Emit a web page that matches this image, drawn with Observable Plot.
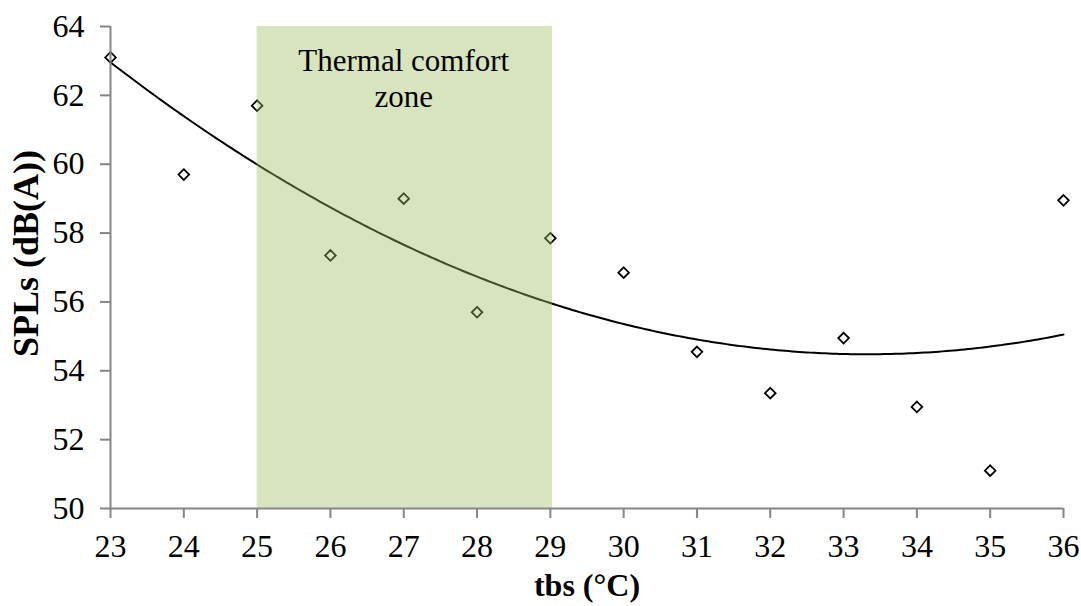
<!DOCTYPE html>
<html>
<head>
<meta charset="utf-8">
<script src="https://cdn.jsdelivr.net/npm/d3@7"></script>
<script src="https://cdn.jsdelivr.net/npm/@observablehq/plot@0.6"></script>
<style>
  html, body { margin: 0; padding: 0; background: #fff; }
  #chart svg { display: block; }
</style>
</head>
<body>
<div id="chart"></div>
<script>
// Data
const tbs = [23, 24, 25, 26, 27, 28, 29, 30, 31, 32, 33, 34, 35, 36];
const spl = [63.1, 59.7, 61.7, 57.35, 59.0, 55.7, 57.85, 56.85, 54.55, 53.35, 54.95, 52.95, 51.1, 58.95];
const xTicks = [23, 24, 25, 26, 27, 28, 29, 30, 31, 32, 33, 34, 35, 36];
const yTicks = [50, 52, 54, 56, 58, 60, 62, 64];
const zone = [{x1: 25, x2: 29.03, y1: 50, y2: 64}];
const zoneLabel = "Thermal comfort\nzone";
const xTitle = "tbs (°C)";
const yTitle = "SPLs (dB(A))";

const points = tbs.map((x, i) => ({x, y: spl[i]}));

// Order-2 polynomial least-squares trendline fitted to the points
function quadFit(xs, ys) {
  const n = xs.length;
  let s = [0, 0, 0, 0, 0], t = [0, 0, 0];
  for (let i = 0; i < n; i++) {
    let p = 1;
    for (let k = 0; k < 5; k++) { s[k] += p; if (k < 3) t[k] += p * ys[i]; p *= xs[i]; }
  }
  const A = [[s[0], s[1], s[2], t[0]], [s[1], s[2], s[3], t[1]], [s[2], s[3], s[4], t[2]]];
  for (let c = 0; c < 3; c++) {
    for (let r = c + 1; r < 3; r++) {
      const f = A[r][c] / A[c][c];
      for (let k = c; k < 4; k++) A[r][k] -= f * A[c][k];
    }
  }
  const b = [0, 0, 0];
  for (let r = 2; r >= 0; r--) {
    let v = A[r][3];
    for (let k = r + 1; k < 3; k++) v -= A[r][k] * b[k];
    b[r] = v / A[r][r];
  }
  return b;
}
const coef = quadFit(tbs, spl);
const trend = d3.range(0, 261).map(i => {
  const x = 23 + i * 13 / 260;
  return {x, y: coef[0] + coef[1] * x + coef[2] * x * x};
});

const font = "'Liberation Serif', 'Times New Roman', serif";
const axisColor = "#868686";

const chart = Plot.plot({
  width: 1081,
  height: 606,
  marginLeft: 110,
  marginRight: 18,
  marginTop: 26,
  marginBottom: 98,
  style: {fontFamily: font, fontSize: "32px", color: "#000", background: "#fff"},
  x: {domain: [23, 36], label: null},
  y: {domain: [50, 64], label: null},
  marks: [
    Plot.axisX({ticks: xTicks, tickSize: 10, tickPadding: 16, stroke: axisColor, strokeWidth: 2, fill: "#000", label: null, tickFormat: d => String(d), fontSize: 32}),
    Plot.axisY({ticks: yTicks, tickSize: 10, tickPadding: 16, stroke: axisColor, strokeWidth: 2, fill: "#000", label: null, tickFormat: d => String(d), fontSize: 32}),
    Plot.line(trend, {x: "x", y: "y", stroke: "#000", strokeWidth: 2, curve: "linear"}),
    Plot.dot(points, {x: "x", y: "y", symbol: "diamond2", r: 4.8, stroke: "#000", strokeWidth: 1.8, fill: "none"}),
    Plot.rect(zone, {x1: "x1", x2: "x2", y1: "y1", y2: "y2", fill: "#9BBB59", fillOpacity: 0.4}),
    Plot.ruleX([23], {stroke: axisColor, strokeWidth: 2}),
    Plot.ruleY([50], {stroke: axisColor, strokeWidth: 2}),
    Plot.text([zoneLabel], {x: () => 27, y: () => 64, text: d => d, lineAnchor: "top", dy: 19, lineHeight: 1.16, fontSize: 31, fill: "#000"}),
    Plot.text([xTitle], {frameAnchor: "bottom", text: d => d, textAnchor: "middle", lineAnchor: "middle", dy: 77, fontWeight: "bold", fontSize: 32, fill: "#000"}),
    Plot.text([yTitle], {frameAnchor: "left", text: d => d, textAnchor: "middle", lineAnchor: "middle", dx: -84, dy: -14, rotate: -90, fontWeight: "bold", fontSize: 36, fill: "#000"})
  ]
});
document.getElementById("chart").appendChild(chart);
</script>
</body>
</html>
